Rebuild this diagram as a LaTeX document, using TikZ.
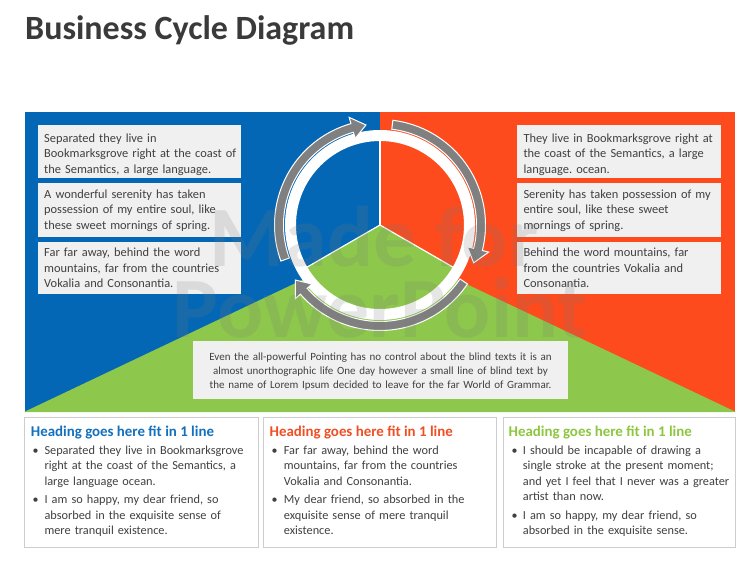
\documentclass[tikz,border=0pt]{standalone}
\usepackage{fontspec}
\setmainfont{Carlito}
\frenchspacing
\definecolor{cblue}{RGB}{4,103,181}
\definecolor{cred}{RGB}{253,75,30}
\definecolor{cgreen}{RGB}{141,200,76}
\definecolor{hblue}{RGB}{18,112,190}
\definecolor{hred}{RGB}{240,78,35}
\definecolor{hgreen}{RGB}{141,198,63}
\definecolor{boxgray}{RGB}{240,240,241}
\definecolor{dgray}{RGB}{64,64,64}
\definecolor{titlegray}{RGB}{58,58,58}
\definecolor{arrowgray}{RGB}{128,128,128}
\definecolor{linegray}{RGB}{205,205,205}
\definecolor{wmgray}{RGB}{120,120,120}
\newcommand\cycarrow[2]{%
 \fill[arrowgray, draw=white, line width=1pt, line join=miter]
  plot[domain=#1:#2+8, samples=40] ({380+105.5*cos(\x)},{225-105.5*sin(\x)})
  -- ({380+112*cos(#2+8)},{225-112*sin(#2+8)})
  -- ({380+101*cos(#2)},{225-101*sin(#2)})
  -- ({380+90*cos(#2+8)},{225-90*sin(#2+8)})
  -- plot[domain=#2+8:#1, samples=40] ({380+96.5*cos(\x)},{225-96.5*sin(\x)})
  -- cycle;}
\newcommand\piesector[3]{%
 \fill[#3] (C) -- plot[domain=#1:#2, samples=40] ({380+86*cos(\x)},{225-86*sin(\x)}) -- cycle;}
\begin{document}
\begin{tikzpicture}[x=1pt,y=-1pt,
  graybox/.style={fill=boxgray, draw=none, inner sep=0pt, anchor=north west},
  wbox/.style={fill=white, draw=linegray, line width=0.8pt, inner sep=0pt, anchor=north west, minimum width=233pt, minimum height=130pt},
  gtext/.style={font=\fontsize{12.4}{15.6}\selectfont, text=dgray, text width=210pt, align=left, inner sep=0pt, anchor=base west},
  btext/.style={font=\fontsize{12.3}{15.5}\selectfont, text=dgray, text width=230pt, align=left, inner sep=0pt, anchor=base west},
  bullet/.style={font=\fontsize{12}{15.5}\selectfont, text=dgray, inner sep=0pt, anchor=base west},
  heading/.style={font=\fontsize{14.9}{18}\selectfont\bfseries, inner sep=0pt, anchor=base west},
  wtext/.style={font=\fontsize{86}{86}\selectfont\bfseries, text=wmgray, text opacity=0.18, inner sep=0pt, anchor=base}
]
\useasboundingbox (0,0) rectangle (755,563);
\fill[white] (0,0) rectangle (755,563);
% title
\node[anchor=base west, inner sep=0pt, font=\fontsize{34}{40}\selectfont\bfseries, text=titlegray] (title) at (25,39.3) {Business Cycle Diagram};
% panel background
\fill[cblue] (25,112) rectangle (380,412);
\fill[cred] (380,112) rectangle (735,412);
\fill[cgreen] (380,243) -- (24,412) -- (736,412) -- cycle;
% central pie
\coordinate (C) at (380,225);
\piesector{90}{210}{cblue}
\piesector{-30}{90}{cred}
\piesector{210}{330}{cgreen}
\draw[white, line width=1.2pt] (C) -- ({380+86*cos(90)},{225-86*sin(90)});
\draw[white, line width=1.2pt] (C) -- ({380+86*cos(210)},{225-86*sin(210)});
\draw[white, line width=1.2pt] (C) -- ({380+86*cos(330)},{225-86*sin(330)});
\draw[white, line width=11pt] (C) circle[radius=89.5];
% cycle arrows
\cycarrow{200}{98}
\cycarrow{83}{-22}
\cycarrow{-34}{-147}
% left text boxes
\node[graybox, minimum width=203pt, minimum height=53pt] (L1) at (38,125) {};
\node[graybox, minimum width=203pt, minimum height=54pt] (L2) at (38,183) {};
\node[graybox, minimum width=203pt, minimum height=52pt] (L3) at (38,242) {};
\node[gtext] (L1t) at (44,142.3) {Separated they live in\\Bookmarksgrove right at the coast of\\the Semantics, a large language.};
\node[gtext] (L2t) at (44,198.3) {A wonderful serenity has taken\\possession of my entire soul, like\\these sweet mornings of spring.};
\node[gtext] (L3t) at (44,256.5) {Far far away, behind the word\\mountains, far from the countries\\Vokalia and Consonantia.};
% right text boxes
\node[graybox, minimum width=204pt, minimum height=53pt] (R1) at (517,125) {};
\node[graybox, minimum width=204pt, minimum height=54pt] (R2) at (517,183) {};
\node[graybox, minimum width=204pt, minimum height=52pt] (R3) at (517,242) {};
\node[gtext] (R1t) at (523.3,142.3) {They live in Bookmarksgrove right at\\the coast of the Semantics, a large\\language. ocean.};
\node[gtext] (R2t) at (523.3,198.3) {Serenity has taken possession of my\\entire soul, like these sweet\\mornings of spring.};
\node[gtext] (R3t) at (523.3,256.5) {Behind the word mountains, far\\from the countries Vokalia and\\Consonantia.};
% centre box
\node[graybox, minimum width=375pt, minimum height=58pt] (CB) at (193,341) {};
\node[font=\fontsize{11}{14}\selectfont, text=dgray, text width=380pt, align=center, inner sep=0pt, anchor=base] (CBt) at (380.5,360.5) {Even the all-powerful Pointing has no control about the blind texts it is an\\almost unorthographic life One day however a small line of blind text by\\the name of Lorem Ipsum decided to leave for the far World of Grammar.};
% bottom boxes
\node[wbox, minimum width=234pt] (B1) at (24,417) {};
\node[wbox] (B2) at (263,417) {};
\node[wbox, minimum width=232pt] (B3) at (503,417) {};
\node[heading, text=hblue] (H1) at (30.7,436.5) {Heading goes here fit in 1 line};
\node[heading, text=hred] (H2) at (269.5,436.5) {Heading goes here fit in 1 line};
\node[heading, text=hgreen] (H3) at (508.5,436.5) {Heading goes here fit in 1 line};
% box 1 bullets
\node[bullet] (b11) at (32.5,454) {•};
\node[btext] (t11) at (44.3,454) {Separated they live in Bookmarksgrove\\right at the coast of the Semantics, a\\large language ocean.};
\node[bullet] (b12) at (32.5,503.5) {•};
\node[btext] (t12) at (44.3,503.5) {I am so happy, my dear friend, so\\absorbed in the exquisite sense of\\mere tranquil existence.};
% box 2 bullets
\node[bullet] (b21) at (271.5,454) {•};
\node[btext] (t21) at (283.7,454) {Far far away, behind the word\\mountains, far from the countries\\Vokalia and Consonantia.};
\node[bullet] (b22) at (271.5,503.5) {•};
\node[btext] (t22) at (283.7,503.5) {My dear friend, so absorbed in the\\exquisite sense of mere tranquil\\existence.};
% box 3 bullets
\node[bullet] (b31) at (511.5,454) {•};
\node[btext] (t31) at (522.7,454) {I should be incapable of drawing a\\single stroke at the present moment;\\and yet I feel that I never was a greater\\artist than now.};
\node[bullet] (b32) at (511.5,519) {•};
\node[btext] (t32) at (522.7,519) {I am so happy, my dear friend, so\\absorbed in the exquisite sense.};
% watermark
\node[wtext] (wm1) at (374,266) {Made for};
\node[wtext] (wm2) at (380,337) {PowerPoint};
\end{tikzpicture}
\end{document}
